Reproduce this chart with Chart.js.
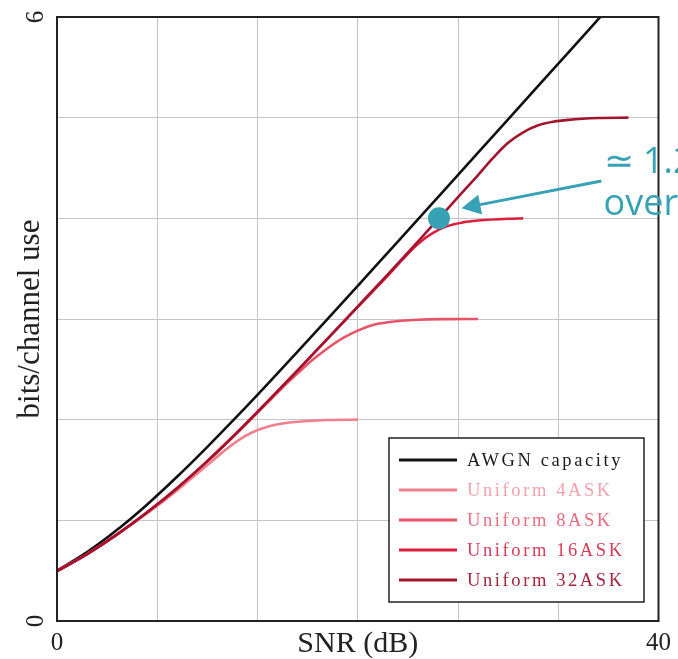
<!DOCTYPE html>
<html>
<head>
<meta charset="utf-8">
<script src="https://cdn.jsdelivr.net/npm/chart.js@4.4.1/dist/chart.umd.min.js"></script>
<style>
  html, body { margin: 0; padding: 0; background: #fff; }
  #wrap { position: relative; width: 678px; height: 659px; }
</style>
</head>
<body>
<div id="wrap"><canvas id="myChart"></canvas></div>
<script>
const ctx = document.getElementById("myChart").getContext("2d");

// SNR (dB) and bits/channel use
const snrAwgn = [0, 2, 4, 6, 8, 10, 12, 14, 16, 18, 20, 22, 24, 26, 28, 30, 32, 34, 36, 38];
const awgnCapacity = [0.5, 0.685, 0.906, 1.158, 1.435, 1.73, 2.037, 2.353, 2.676, 3.001, 3.329, 3.659, 3.989, 4.32, 4.652, 4.983, 5.316, 5.647, 5.979, 6.311];

const snrAsk4 = [0, 2, 4, 6, 8, 9, 10, 11, 12, 13, 14, 15, 16, 18, 20];
const miAsk4 = [0.496, 0.665, 0.86, 1.07, 1.3, 1.425, 1.55, 1.675, 1.79, 1.875, 1.93, 1.962, 1.98, 1.997, 2.0];

const snrAsk8 = [0, 2, 4, 6, 8, 10, 12, 14, 15, 16, 17, 18, 19, 20, 21, 22, 24, 26, 28];
const miAsk8 = [0.496, 0.665, 0.86, 1.08, 1.322, 1.588, 1.875, 2.17, 2.32, 2.46, 2.595, 2.71, 2.81, 2.885, 2.94, 2.968, 2.993, 2.999, 3.0];

const snrAsk16 = [0, 2, 4, 6, 8, 10, 12, 14, 16, 18, 20, 22, 23, 24, 25, 26, 27, 28, 30, 31];
const miAsk16 = [0.496, 0.665, 0.86, 1.08, 1.322, 1.588, 1.875, 2.179, 2.49, 2.805, 3.12, 3.43, 3.595, 3.745, 3.855, 3.925, 3.96, 3.978, 3.996, 4.0];

const snrAsk32 = [0, 2, 4, 6, 8, 10, 12, 14, 16, 18, 20, 22, 24, 26, 27, 28, 29, 30, 31, 32, 33, 34, 36, 38];
const miAsk32 = [0.496, 0.665, 0.86, 1.08, 1.322, 1.588, 1.875, 2.179, 2.49, 2.805, 3.124, 3.444, 3.769, 4.1, 4.265, 4.43, 4.6, 4.75, 4.855, 4.925, 4.96, 4.978, 4.996, 5.0];

const seriesLabels = ["AWGN capacity", "Uniform 4ASK", "Uniform 8ASK", "Uniform 16ASK", "Uniform 32ASK"];
const xTickLabels = { 0: "0", 40: "40" };
const yTickLabels = { 0: "0", 6: "6" };

// highlighted point and arrow of the annotation
const markerPoint = { x: 25.4, y: 4.0 };
const arrowFrom = { x: 36.2, y: 4.37 };
const arrowTo = { x: 26.9, y: 4.1 };
const noteLines = ["\u2243 1.2", "over"];
const noteAt = [{ x: 36.35, y: 4.45 }, { x: 36.35, y: 4.03 }];

const teal = "#37a1b5";
const lineColors = ["#111111", "#f0808d", "#e8536a", "#dc1f3f", "#a3152e"];
const textColors = ["#1a1a1a", "#f2a2ac", "#ea6c7e", "#d93a55", "#a5233b"];

function toPoints(xs, ys) {
  return xs.map((x, i) => ({ x: x, y: ys[i] }));
}

const curves = [
  [snrAwgn, awgnCapacity],
  [snrAsk4, miAsk4],
  [snrAsk8, miAsk8],
  [snrAsk16, miAsk16],
  [snrAsk32, miAsk32],
];

const datasets = curves.map((c, i) => ({
  type: "line",
  label: seriesLabels[i],
  data: toPoints(c[0], c[1]),
  borderColor: lineColors[i],
  borderWidth: 2.6,
  pointRadius: 0,
  cubicInterpolationMode: "monotone",
  order: 4 - i, // later series drawn on top, like pgfplots
}));

datasets.push({
  type: "scatter",
  label: "marker",
  data: [markerPoint],
  pointRadius: 11,
  pointHoverRadius: 11,
  backgroundColor: teal,
  borderWidth: 0,
  order: -1,
});

const serif = "'Liberation Serif', 'Times New Roman', serif";

const extras = {
  id: "extras",
  afterDraw(chart) {
    const c = chart.ctx;
    const area = chart.chartArea;
    const xs = chart.scales.x;
    const ys = chart.scales.y;

    // frame
    c.save();
    c.strokeStyle = "#222";
    c.lineWidth = 2;
    c.strokeRect(area.left, area.top, area.right - area.left, area.bottom - area.top);

    // rotated y tick labels
    c.fillStyle = "#222";
    c.font = "25px " + serif;
    c.textAlign = "center";
    c.textBaseline = "middle";
    Object.keys(yTickLabels).forEach((v) => {
      c.save();
      c.translate(36, ys.getPixelForValue(Number(v)));
      c.rotate(-Math.PI / 2);
      c.fillText(yTickLabels[v], 0, 0);
      c.restore();
    });

    // legend box
    const lx = 389, ly = 438, lw = 255, lh = 164;
    c.fillStyle = "#fff";
    c.fillRect(lx, ly, lw, lh);
    c.strokeStyle = "#222";
    c.lineWidth = 1.5;
    c.strokeRect(lx, ly, lw, lh);
    c.font = "18.5px " + serif;
    c.textAlign = "left";
    c.textBaseline = "alphabetic";
    if ("letterSpacing" in c) c.letterSpacing = "2.6px";
    seriesLabels.forEach((lab, i) => {
      const y = ly + 22 + i * 30;
      c.strokeStyle = lineColors[i];
      c.lineWidth = 3;
      c.beginPath();
      c.moveTo(lx + 10, y);
      c.lineTo(lx + 68, y);
      c.stroke();
      c.fillStyle = textColors[i];
      c.fillText(lab, lx + 78, y + 6);
    });
    if ("letterSpacing" in c) c.letterSpacing = "0px";

    // arrow
    const x0 = xs.getPixelForValue(arrowFrom.x), y0 = ys.getPixelForValue(arrowFrom.y);
    const x1 = xs.getPixelForValue(arrowTo.x), y1 = ys.getPixelForValue(arrowTo.y);
    const ang = Math.atan2(y1 - y0, x1 - x0);
    const headLen = 19, headW = 10;
    const bx = x1 - headLen * Math.cos(ang), by = y1 - headLen * Math.sin(ang);
    c.strokeStyle = teal;
    c.lineWidth = 3;
    c.beginPath();
    c.moveTo(x0, y0);
    c.lineTo(bx, by);
    c.stroke();
    c.fillStyle = teal;
    c.beginPath();
    c.moveTo(x1, y1);
    c.lineTo(bx + headW * Math.sin(ang), by - headW * Math.cos(ang));
    c.lineTo(bx - headW * Math.sin(ang), by + headW * Math.cos(ang));
    c.closePath();
    c.fill();

    // note text (runs off the right edge in the original)
    c.font = "36px 'Open Sans', sans-serif";
    c.textAlign = "left";
    c.textBaseline = "alphabetic";
    noteLines.forEach((t, i) => {
      c.fillText(t, xs.getPixelForValue(noteAt[i].x), ys.getPixelForValue(noteAt[i].y));
    });
    c.restore();
  },
};

const config = {
  data: { datasets: datasets },
  options: {
    responsive: true,
    maintainAspectRatio: false,
    animation: false,
    layout: { padding: { top: 17, right: 18, left: 0, bottom: 0 } },
    plugins: {
      legend: { display: false },
      tooltip: { enabled: false },
    },
    scales: {
      x: {
        type: "linear",
        min: 0,
        max: 40,
        afterBuildTicks: (scale) => {
          scale.ticks = [0, 1, 2, 3, 4, 5, 6].map((i) => ({ value: (i * 40) / 6 }));
        },
        afterFit: (scale) => {
          scale.height = 38;
        },
        ticks: {
          autoSkip: false,
          maxRotation: 0,
          padding: 7,
          color: "#222",
          font: { family: serif, size: 25 },
          callback: (v) => xTickLabels[v] || "",
        },
        grid: { color: "#c4c4c4", lineWidth: 1, drawTicks: false },
        border: { display: false },
        title: {
          display: true,
          text: "SNR (dB)",
          color: "#222",
          font: { family: serif, size: 30 },
          padding: { top: 0, bottom: -3 },
        },
      },
      y: {
        type: "linear",
        min: 0,
        max: 6,
        ticks: { stepSize: 1, display: false },
        afterFit: (scale) => {
          scale.width = 57;
        },
        grid: { color: "#c4c4c4", lineWidth: 1, drawTicks: false },
        border: { display: false },
        title: {
          display: true,
          text: "bits/channel use",
          color: "#222",
          font: { family: serif, size: 31 },
          padding: { top: 12, bottom: 0 },
        },
      },
    },
  },
  plugins: [extras],
};

const myChart = new Chart(ctx, config);
</script>
</body>
</html>
